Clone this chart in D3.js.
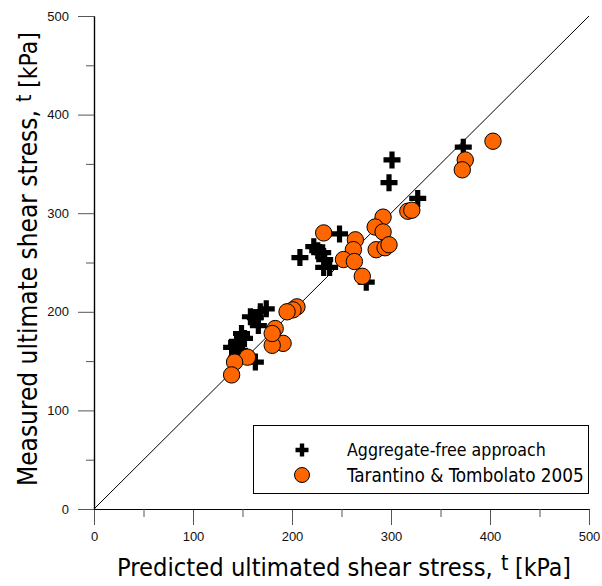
<!DOCTYPE html>
<html>
<head>
<meta charset="utf-8">
<script src="https://cdn.jsdelivr.net/npm/d3@7"></script>
<style>
  html, body { margin: 0; padding: 0; background: #fff; }
  svg { display: block; }
</style>
</head>
<body>
<svg id="chart" width="602" height="586"></svg>
<script>
// Aggregate-free approach: [predicted, measured] in kPa
const aggregateFree = [
  [373, 367], [301, 354], [298, 331], [327, 315], [248, 279],
  [222, 266], [226, 262], [231, 260], [233, 253], [232, 245], [238, 245],
  [208, 255], [275, 230],
  [174, 203], [168, 200], [163, 194], [158, 195], [166, 186], [149, 178],
  [152, 173], [144, 169], [139, 164], [147, 161], [150, 158], [144, 153], [163, 149]
];

// Tarantino & Tombolato 2005: [predicted, measured] in kPa
const tarantino = [
  [403, 373], [375, 354], [372, 344], [317, 302], [321, 303], [292, 296],
  [284, 286], [292, 281], [232, 280], [264, 273], [262, 263], [285, 263],
  [294, 265], [298, 268], [252, 253], [263, 251], [271, 236],
  [205, 205], [201, 202], [195, 200], [183, 183], [191, 168], [180, 166],
  [180, 178], [155, 154], [142, 149], [139, 136]
];

const majorTicks = [0, 100, 200, 300, 400, 500];
const minorTicks = [50, 150, 250, 350, 450];
const seriesNames = ["Aggregate-free approach", "Tarantino & Tombolato 2005"];
const xTitle = ["Predicted ultimated shear stress,", "t", "[kPa]"];
const yTitle = ["Measured ultimate shear stress,", "t", "[kPa]"];

const svg = d3.select("#chart");
const x = d3.scaleLinear().domain([0, 500]).range([94, 589]);
const y = d3.scaleLinear().domain([0, 500]).range([509, 16]);

const tickFont = "'Liberation Sans', Arial, sans-serif";
const textFont = "'DejaVu Sans Condensed', 'Open Sans', sans-serif";
const orange = "#ff6600";

// axes: major ticks long, minor ticks short, both outward
const xAxisG = svg.append("g").attr("transform", `translate(0,${y(0)})`);
xAxisG.call(d3.axisBottom(x).tickValues(majorTicks).tickSize(16).tickSizeOuter(0).tickPadding(4));
xAxisG.append("g").call(d3.axisBottom(x).tickValues(minorTicks).tickSize(8).tickSizeOuter(0).tickFormat(""));

const yAxisG = svg.append("g").attr("transform", `translate(${x(0)},0)`);
yAxisG.call(d3.axisLeft(y).tickValues(majorTicks).tickSize(16).tickSizeOuter(0).tickPadding(9));
yAxisG.append("g").call(d3.axisLeft(y).tickValues(minorTicks).tickSize(8).tickSizeOuter(0).tickFormat(""));

svg.selectAll(".domain").attr("stroke", "#000").attr("stroke-width", 1.2);
svg.selectAll(".tick line").attr("stroke", "#555").attr("stroke-width", 1);
svg.selectAll(".tick text")
  .attr("font-family", tickFont)
  .attr("font-size", 13)
  .attr("fill", "#111");
xAxisG.selectAll(".tick text").attr("dy", "0.9em");

// 1:1 reference line
svg.append("line")
  .attr("x1", x(0)).attr("y1", y(0))
  .attr("x2", x(500)).attr("y2", y(500))
  .attr("stroke", "#000").attr("stroke-width", 1);

// plus-sign marker path centred at 0,0
function plusPath(arm, half) {
  return `M${-half},${-arm}H${half}V${-half}H${arm}V${half}H${half}V${arm}H${-half}V${half}H${-arm}V${-half}H${-half}Z`;
}

svg.append("g").selectAll("path")
  .data(aggregateFree)
  .join("path")
  .attr("d", plusPath(8.5, 2.6))
  .attr("transform", d => `translate(${x(d[0])},${y(d[1])})`)
  .attr("fill", "#000");

svg.append("g").selectAll("circle")
  .data(tarantino)
  .join("circle")
  .attr("cx", d => x(d[0]))
  .attr("cy", d => y(d[1]))
  .attr("r", 8.2)
  .attr("fill", orange)
  .attr("stroke", "#000")
  .attr("stroke-width", 1);

// text sized so that it spans the given width
function fitText(parent, str, px, py, width, base) {
  const t = parent.append("text")
    .attr("x", px).attr("y", py)
    .attr("font-family", textFont)
    .attr("font-size", base)
    .attr("fill", "#000")
    .text(str);
  const w = t.node().getComputedTextLength();
  t.attr("font-size", base * width / w);
  return t;
}

// legend
const lg = svg.append("g");
lg.append("rect")
  .attr("x", 253.5).attr("y", 425.5).attr("width", 335).attr("height", 68)
  .attr("fill", "#fff").attr("stroke", "#000").attr("stroke-width", 1);
lg.append("path")
  .attr("d", plusPath(6.5, 2.2))
  .attr("transform", "translate(302,450)")
  .attr("fill", "#000");
lg.append("circle")
  .attr("cx", 302).attr("cy", 475).attr("r", 7.5)
  .attr("fill", orange).attr("stroke", "#000").attr("stroke-width", 1);
const legendWidths = [199, 237];
seriesNames.forEach((name, i) => {
  fitText(lg, name, 347, 450 + i * 25, legendWidths[i], 14).attr("dy", "0.35em");
});

// axis titles: main text, raised symbol, unit
function axisTitle(g, parts) {
  fitText(g, parts[0], 0, 0, 376, 24);
  fitText(g, parts[1], 384, -6, 7.5, 16);
  fitText(g, parts[2], 398, 0, 56, 22);
}

const xg = svg.append("g").attr("transform", "translate(117,576)");
axisTitle(xg, xTitle);

const yg = svg.append("g").attr("transform", "translate(37,486) rotate(-90)");
axisTitle(yg, yTitle);
</script>
</body>
</html>
